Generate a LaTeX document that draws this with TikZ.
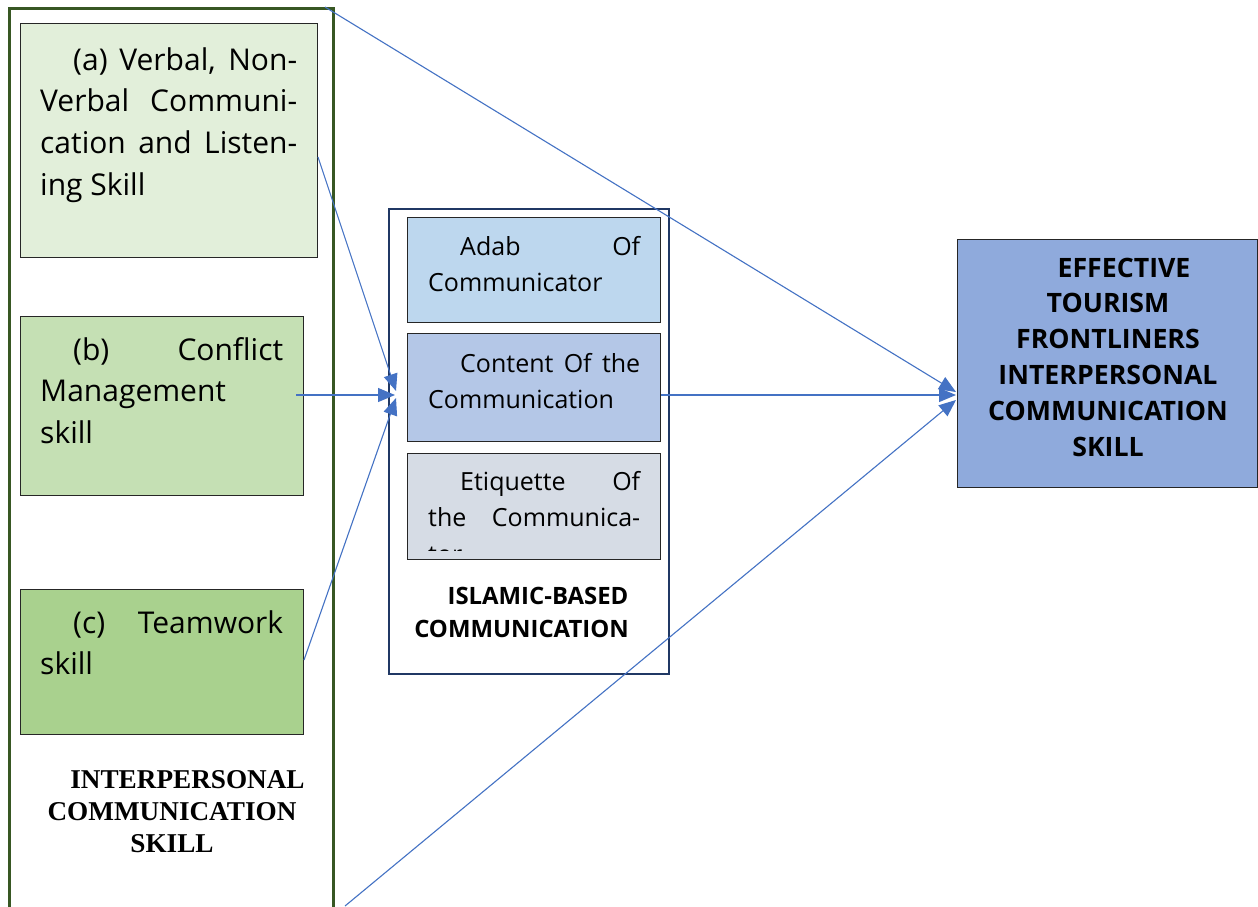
\documentclass[tikz,border=0pt]{standalone}
\usepackage{fontspec}
\setmainfont{Open Sans}
\newfontfamily\serifbold{Liberation Serif}
\usetikzlibrary{arrows.meta,calc}
\setlength{\parindent}{0pt}
\newcommand{\jline}[2]{\makebox[#1][s]{#2}}
\definecolor{outgreen}{HTML}{385723}
\definecolor{greenA}{HTML}{E2EFDA}
\definecolor{greenB}{HTML}{C5E0B4}
\definecolor{greenC}{HTML}{A9D18E}
\definecolor{navyline}{HTML}{203864}
\definecolor{blueA}{HTML}{BDD7EE}
\definecolor{blueB}{HTML}{B4C7E7}
\definecolor{greyC}{HTML}{D6DCE5}
\definecolor{effblue}{HTML}{8FAADC}
\definecolor{arrowblue}{HTML}{4472C4}
\definecolor{boxline}{HTML}{262626}
\begin{document}
\begin{tikzpicture}[x=1pt,y=-1pt,
  box/.style={draw=boxline, line width=1pt, inner sep=0pt, anchor=north west},
  txtL/.style={anchor=north west, inner sep=0pt, align=left, font=\fontsize{30}{41.7}\selectfont},
  txtM/.style={anchor=north west, inner sep=0pt, align=left, font=\fontsize{25}{36.5}\selectfont},
  lab/.style={anchor=north, inner sep=0pt, align=center},
  arr/.style={draw=arrowblue, line width=1.1pt, -{Triangle[length=17pt,width=14pt]}}]
\useasboundingbox (0,0) rectangle (1258,906);
\clip (0,0) rectangle (1258,906);
\fill[white] (0,0) rectangle (1258,906);

% outer green container
\node[draw=outgreen, line width=2.5pt, inner sep=0pt, anchor=north west,
      minimum width=324pt, minimum height=940pt] (ics) at (8,7) {};

% left boxes
\node[box, fill=greenA, minimum width=297pt, minimum height=234pt] (a) at (20,23) {};
\node[box, fill=greenB, minimum width=283pt, minimum height=179pt] (b) at (20,316) {};
\node[box, fill=greenC, minimum width=283pt, minimum height=145pt] (c) at (20,589) {};

\node[txtL] (ta) at (40,40.8) {\strut\hspace*{33pt}\jline{224pt}{(a) Verbal, Non-}\\
  \jline{257pt}{Verbal Communi-}\\ \jline{257pt}{cation and Listen-}\\ ing Skill};
\node[txtL] (tb) at (40,330.6) {\strut\hspace*{33pt}\jline{210pt}{(b) Conflict}\\ Management\\ skill};
\node[txtL] (tc) at (40,603.6) {\strut\hspace*{33pt}\jline{210pt}{(c) Teamwork}\\ skill};

\node[lab, font=\serifbold\bfseries\fontsize{27.2}{32}\selectfont] (icslab) at (172,765.6)
  {\strut\hspace*{31pt}INTERPERSONAL\\ COMMUNICATION\\ SKILL};

% Islamic-based box
\node[draw=navyline, line width=2pt, inner sep=0pt, anchor=north west,
      minimum width=280pt, minimum height=465pt] (isl) at (388,208) {};
\node[box, fill=blueA, minimum width=253pt, minimum height=105pt] (adab) at (407,217) {};
\node[box, fill=blueB, minimum width=253pt, minimum height=108pt] (cont) at (407,333) {};
\node[box, fill=greyC, minimum width=253pt, minimum height=106pt] (etiq) at (407,453) {};

\node[txtM] (tadab) at (428,229.45) {\strut\hspace*{32pt}\jline{180pt}{Adab Of}\\ Communicator};
\node[txtM] (tcont) at (428,346.45) {\strut\hspace*{32pt}\jline{180pt}{Content Of the}\\ Communication};
\begin{scope}
\clip (407,453) rectangle (660,550);
\node[txtM] (tetiq) at (428,464.45) {\strut\hspace*{32pt}\jline{180pt}{Etiquette Of}\\
  \jline{212pt}{the Communica-}\\ tor};
\end{scope}

\node[lab, font=\bfseries\fontsize{23.9}{33}\selectfont] (isllab) at (521.5,580.9)
  {\strut\hspace*{33pt}ISLAMIC-BASED\\ COMMUNICATION};

% effective box
\node[box, fill=effblue, minimum width=300pt, minimum height=248pt] (eff) at (957,239) {};
\node[lab, font=\bfseries\fontsize{26.7}{35.8}\selectfont] (efflab) at (1108,251.9)
  {\strut\hspace*{32pt}EFFECTIVE\\ TOURISM\\ FRONTLINERS\\ INTERPERSONAL\\ COMMUNICATION\\ SKILL};

% connector end points
\coordinate (sa) at ($(a.north east)+(0,134)$);
\coordinate (sb) at (296,395);
\coordinate (sc) at ($(c.north east)+(0,71)$);
\coordinate (ea) at (396,391);
\coordinate (eb) at (395,395);
\coordinate (ec) at (396,398);
\coordinate (stop) at (325,7);
\coordinate (scont) at (cont.east);
\coordinate (sbot) at (345,906);
\coordinate (fa) at (956,392);
\coordinate (fb) at (956,395);
\coordinate (fc) at (956,400);

\draw[arr] (sa) -- (ea);
\draw[arr] (sb) -- (eb);
\draw[arr] (sc) -- (ec);
\draw[arr] (stop) -- (fa);
\draw[arr] (scont |- fb) -- (fb);
\draw[arr] (sbot) -- (fc);
\end{tikzpicture}
\end{document}
